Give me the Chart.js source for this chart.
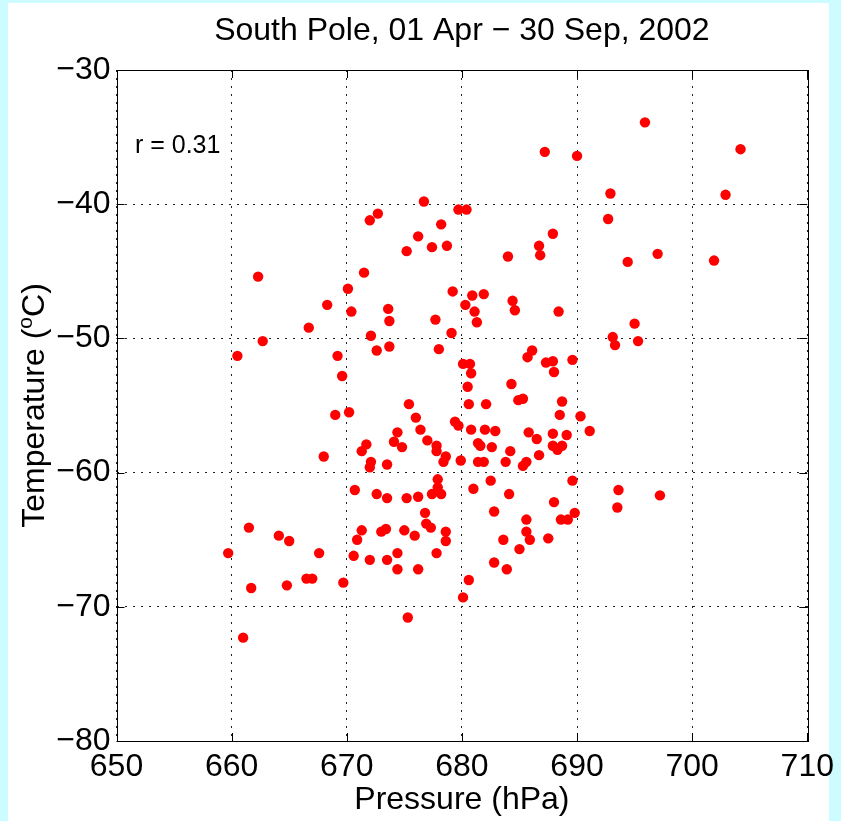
<!DOCTYPE html>
<html>
<head>
<meta charset="utf-8">
<title>South Pole scatter</title>
<script src="https://cdn.jsdelivr.net/npm/chart.js@4/dist/chart.umd.min.js"></script>
<style>
	html, body { margin: 0; padding: 0; background: #fff; }
	canvas { display: block; }
</style>
</head>
<body>
<canvas id="plot" width="841" height="821"></canvas>
<script>
// readings (hPa, degC)
var pressure = [
	662.3, 670.1, 687.2, 690.0, 676.7, 672.0, 672.7, 679.7, 680.4, 678.2,
	676.2, 675.2, 677.4, 678.7, 684.0, 686.7, 686.8, 687.9, 671.5, 679.2,
	680.9, 681.9, 684.4, 695.9, 704.2, 692.9, 702.9, 692.7, 697.0, 694.4,
	701.9, 668.3, 670.4, 666.7, 662.7, 660.5, 669.2, 669.6, 669.0, 670.2,
	668.0, 670.7, 684.6, 680.3, 681.1, 681.3, 688.4, 673.6, 673.7, 677.7,
	672.1, 672.6, 673.7, 679.1, 678.0, 686.1, 685.7, 689.6, 680.1, 680.7,
	680.8, 687.3, 687.9, 688.0, 684.3, 680.5, 684.9, 685.3, 680.6, 682.1,
	688.7, 688.5, 690.3, 691.1, 675.4, 676.0, 676.4, 674.4, 674.1, 674.8,
	671.7, 671.3, 677.0, 677.8, 677.8, 678.6, 678.4, 679.4, 679.7, 680.8,
	682.0, 682.9, 681.4, 681.6, 682.6, 679.9, 681.4, 681.9, 683.8, 684.2,
	685.3, 685.6, 686.7, 685.8, 686.5, 687.9, 689.1, 687.9, 688.3, 688.7,
	672.1, 672.0, 673.5, 672.6, 673.5, 675.2, 676.2, 677.4, 677.9, 677.9,
	678.2, 682.5, 681.0, 684.1, 689.6, 688.0, 695.0, 693.1, 693.3, 695.3,
	693.6, 697.2, 693.5, 661.5, 664.1, 665.0, 659.7, 667.6, 670.6, 661.7,
	664.8, 666.5, 667.0, 669.7, 661.0, 676.8, 676.9, 677.3, 671.3, 670.9,
	673.0, 673.4, 675.0, 675.9, 678.6, 678.6, 672.0, 673.5, 674.4, 674.4,
	676.2, 677.8, 680.6, 680.1, 675.3, 682.8, 685.6, 685.6, 685.9, 683.6,
	685.0, 687.5, 688.6, 689.2, 689.8, 682.8, 683.9
];
var temperature = [
	-45.4, -46.3, -36.1, -36.4, -39.8, -41.2, -40.7, -40.4, -40.4, -41.5,
	-42.4, -43.5, -43.2, -43.1, -43.9, -43.1, -43.8, -42.2, -45.1, -46.5,
	-46.8, -46.7, -47.2, -33.9, -35.9, -39.2, -39.3, -41.1, -43.7, -44.3,
	-44.2, -47.5, -48.0, -49.2, -50.2, -51.3, -51.3, -52.8, -55.7, -55.5,
	-58.8, -61.3, -47.9, -47.5, -48.0, -48.8, -48.0, -47.8, -48.7, -48.6,
	-49.8, -50.9, -50.6, -49.6, -50.8, -50.9, -51.4, -51.6, -51.9, -51.9,
	-52.6, -51.8, -51.7, -52.5, -53.4, -53.6, -54.6, -54.5, -54.9, -54.9,
	-54.7, -55.7, -55.8, -56.9, -54.9, -55.9, -56.8, -57.0, -57.7, -58.1,
	-57.9, -58.4, -57.6, -58.0, -58.4, -58.8, -59.2, -56.2, -56.5, -56.8,
	-56.8, -56.9, -57.8, -58.0, -58.1, -59.1, -59.2, -59.2, -59.2, -58.4,
	-59.5, -59.2, -58.7, -57.0, -57.5, -57.1, -57.2, -58.0, -58.3, -58.0,
	-59.2, -59.6, -59.4, -61.6, -61.9, -61.9, -61.8, -61.6, -60.5, -61.1,
	-61.6, -60.6, -61.2, -61.6, -60.6, -62.2, -48.9, -49.9, -50.5, -50.2,
	-61.3, -61.7, -62.6, -64.1, -64.7, -65.1, -66.0, -66.0, -66.2, -68.6,
	-68.4, -67.9, -67.9, -68.2, -72.3, -63.0, -63.8, -64.1, -64.3, -65.0,
	-64.4, -64.2, -64.3, -64.7, -64.4, -65.1, -66.5, -66.5, -66.0, -67.2,
	-67.2, -66.0, -68.0, -69.3, -70.8, -62.9, -63.5, -64.4, -65.0, -65.0,
	-65.7, -64.9, -63.5, -63.5, -63.0, -66.7, -67.2
];

var xTicks = [650, 660, 670, 680, 690, 700, 710];
var yTicks = [-80, -70, -60, -50, -40, -30];

var titleText = 'South Pole, 01 Apr \u2212 30 Sep, 2002';
var xLabel = 'Pressure (hPa)';
var yLabelParts = ['Temperature (', 'o', 'C)'];
var corrText = 'r = 0.31';
var corrAt = { x: 651.6, y: -35.7 };

var FONT = '"Liberation Sans", Arial, Helvetica, sans-serif';

var points = [];
for (var i = 0; i < pressure.length; i++) {
	points.push({ x: pressure[i], y: temperature[i] });
}

var minus = function(v){
	return v < 0 ? '\u2212' + Math.abs(v) : '' + v;
};

// page colour, box, inward ticks and the texts
var decor = {
	id: 'decor',
	beforeDraw: function(chart){
		var ctx = chart.ctx;
		ctx.save();
		ctx.fillStyle = '#ffffff';
		ctx.fillRect(0, 0, chart.width, chart.height);
		ctx.fillStyle = '#ccfcff';
		ctx.fillRect(0, 0, 8, chart.height);
		ctx.fillRect(829, 0, chart.width - 829, chart.height);
		ctx.fillRect(0, 0, chart.width, 3);
		ctx.restore();
	},
	afterDraw: function(chart){
		var ctx = chart.ctx;
		var a = chart.chartArea;
		var xs = chart.scales.x, ys = chart.scales.y;
		var tl = 8;
		ctx.save();
		ctx.strokeStyle = '#000';
		ctx.lineWidth = 1;
		ctx.strokeRect(Math.round(a.left) + 0.5, Math.round(a.top) + 0.5,
			Math.round(a.right - a.left), Math.round(a.bottom - a.top));

		ctx.beginPath();
		xTicks.forEach(function(v){
			var px = Math.round(xs.getPixelForValue(v)) + 0.5;
			ctx.moveTo(px, a.bottom); ctx.lineTo(px, a.bottom - tl);
			ctx.moveTo(px, a.top); ctx.lineTo(px, a.top + tl);
		});
		yTicks.forEach(function(v){
			var py = Math.round(ys.getPixelForValue(v)) + 0.5;
			ctx.moveTo(a.left, py); ctx.lineTo(a.left + tl, py);
			ctx.moveTo(a.right, py); ctx.lineTo(a.right - tl, py);
		});
		ctx.stroke();

		ctx.fillStyle = '#000';
		var cx = (a.left + a.right) / 2;
		var cy = (a.top + a.bottom) / 2;

		ctx.font = '32px ' + FONT;
		ctx.textAlign = 'center';
		ctx.textBaseline = 'middle';
		ctx.fillText(titleText, cx, 31);
		ctx.fillText(xLabel, cx, 800);

		// y label with superscript o
		var big = '32px ' + FONT, small = '21px ' + FONT;
		ctx.font = big;
		var w0 = ctx.measureText(yLabelParts[0]).width;
		var w2 = ctx.measureText(yLabelParts[2]).width;
		ctx.font = small;
		var w1 = ctx.measureText(yLabelParts[1]).width;
		var total = w0 + w1 + w2;
		ctx.translate(33, cy);
		ctx.rotate(-Math.PI / 2);
		ctx.textAlign = 'left';
		ctx.textBaseline = 'alphabetic';
		var sx = -total / 2, base = 11;
		ctx.font = big;
		ctx.fillText(yLabelParts[0], sx, base);
		ctx.font = small;
		ctx.fillText(yLabelParts[1], sx + w0, base - 12);
		ctx.font = big;
		ctx.fillText(yLabelParts[2], sx + w0 + w1, base);
		ctx.setTransform(1, 0, 0, 1, 0, 0);

		ctx.font = '25px ' + FONT;
		ctx.textAlign = 'left';
		ctx.textBaseline = 'middle';
		ctx.fillText(corrText, xs.getPixelForValue(corrAt.x), ys.getPixelForValue(corrAt.y));
		ctx.restore();
	}
};

var chart = new Chart(document.getElementById('plot').getContext('2d'), {
	type: 'scatter',
	data: {
		datasets: [{
			data: points,
			backgroundColor: '#ff0000',
			borderWidth: 0,
			pointRadius: 5.2,
			pointHoverRadius: 5.2
		}]
	},
	options: {
		responsive: false,
		animation: false,
		events: [],
		layout: { padding: { left: 0, top: 70, right: 27.5, bottom: 0 } },
		plugins: {
			legend: { display: false },
			title: { display: false },
			tooltip: { enabled: false }
		},
		scales: {
			x: {
				type: 'linear',
				min: 650,
				max: 710,
				afterBuildTicks: function(s){ s.ticks = xTicks.map(function(v){ return { value: v }; }); },
				afterFit: function(s){ s.height = 80; },
				ticks: {
					color: '#000',
					font: { family: FONT, size: 32 },
					padding: 7,
					maxRotation: 0,
					autoSkip: false,
					callback: function(v){ return '' + v; }
				},
				grid: { color: '#222', lineWidth: 1, drawTicks: false },
				border: { display: false, dash: [2, 6] }
			},
			y: {
				type: 'linear',
				min: -80,
				max: -30,
				afterBuildTicks: function(s){ s.ticks = yTicks.map(function(v){ return { value: v }; }); },
				afterFit: function(s){ s.width = 116.5; },
				ticks: {
					color: '#000',
					font: { family: FONT, size: 32 },
					padding: 6,
					autoSkip: false,
					callback: function(v){ return minus(v); }
				},
				grid: { color: '#222', lineWidth: 1, drawTicks: false },
				border: { display: false, dash: [2, 6] }
			}
		}
	},
	plugins: [decor]
});
</script>
</body>
</html>
